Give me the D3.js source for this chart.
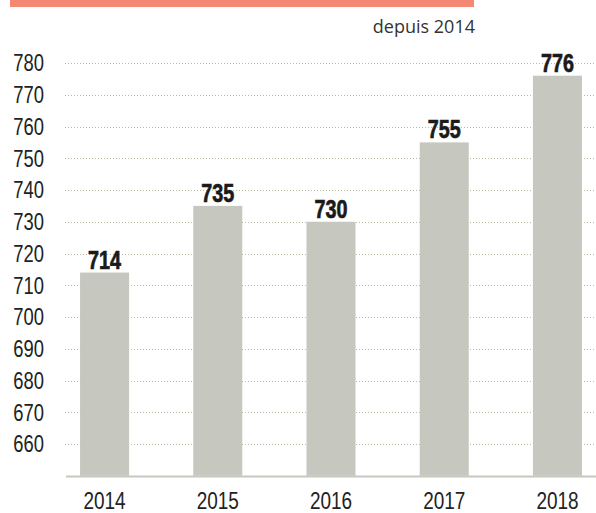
<!DOCTYPE html>
<html><head><meta charset="utf-8">
<script src="https://cdn.jsdelivr.net/npm/d3@7"></script>
<style>
html,body{margin:0;padding:0;background:#fff;}
svg{display:block;}
</style></head>
<body>
<svg id="chart" width="596" height="513"></svg>
<script>
const years = ["2014","2015","2016","2017","2018"];
const values = [714, 735, 730, 755, 776];
const yTicks = [660,670,680,690,700,710,720,730,740,750,760,770,780];
const subtitle = "depuis 2014";

const svg = d3.select("#chart");
const W = 596, H = 513;
const font = "'Liberation Sans',Arial,sans-serif";

const y = d3.scaleLinear().domain([650, 780]).range([475.75, 63]);
const x = d3.scaleBand().domain(years).range([66, 596]).paddingInner(0.567).paddingOuter(0.124);

// top bar
svg.append("rect").attr("x", 10).attr("y", 0).attr("width", 464).attr("height", 7).attr("fill", "#f58775");

svg.append("text").attr("x", 475).attr("y", 33).attr("text-anchor", "end")
  .attr("font-family", "'Open Sans',sans-serif").attr("font-size", 18).attr("fill", "#333")
  .text(subtitle);

// gridlines
svg.append("g").selectAll("line").data(yTicks).join("line")
  .attr("x1", 65).attr("x2", W)
  .attr("y1", d => Math.round(y(d)) + 0.5).attr("y2", d => Math.round(y(d)) + 0.5)
  .attr("stroke", "#bdbba3").attr("stroke-width", 1).attr("stroke-dasharray", "1,2");

// y axis labels (condensed by horizontal scaling)
svg.append("g").selectAll("g").data(yTicks).join("g")
  .attr("transform", d => `translate(44,${y(d)}) scale(0.8,1)`)
  .append("text").attr("text-anchor", "end").attr("dy", "0.36em")
  .attr("font-family", font).attr("font-size", 23).attr("fill", "#222")
  .text(d => d);

// bars
svg.append("g").selectAll("rect").data(years).join("rect")
  .attr("x", d => x(d)).attr("width", x.bandwidth())
  .attr("y", (d, i) => y(values[i])).attr("height", (d, i) => y(650) - y(values[i]))
  .attr("fill", "#c6c7bf");

// value labels
svg.append("g").selectAll("g").data(years).join("g")
  .attr("transform", (d, i) => `translate(${x(d) + x.bandwidth() / 2},${y(values[i]) - 4}) scale(0.79,1)`)
  .append("text").attr("text-anchor", "middle").attr("font-family", font).attr("font-weight", "bold")
  .attr("font-size", 25).attr("fill", "#1a1a1a").attr("stroke", "#1a1a1a").attr("stroke-width", 0.7)
  .text((d, i) => values[i]);

// x axis
svg.append("line").attr("x1", 66).attr("x2", W).attr("y1", 476.5).attr("y2", 476.5)
  .attr("stroke", "#c6c7bf").attr("stroke-width", 2);
svg.append("g").selectAll("g").data(years).join("g")
  .attr("transform", d => `translate(${x(d) + x.bandwidth() / 2},508.5) scale(0.79,1)`)
  .append("text").attr("text-anchor", "middle")
  .attr("font-family", font).attr("font-size", 24).attr("fill", "#222")
  .text(d => d);
</script>
</body></html>
